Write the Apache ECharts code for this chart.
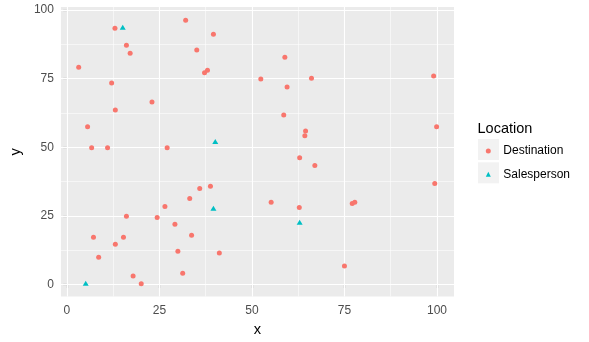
<!DOCTYPE html>
<html>
<head>
<meta charset="utf-8">
<script src="https://cdn.jsdelivr.net/npm/echarts@6/dist/echarts.min.js"></script>
<style>html,body{margin:0;padding:0;background:#fff}#c{width:589px;height:342px}</style>
</head>
<body>
<div id="c"></div>
<script>
// Data
var destX = [13.0, 32.1, 39.6, 16.1, 17.1, 35.1, 3.2, 38.0, 37.2, 52.4, 12.1, 23.0, 13.1, 5.6, 6.7, 11.0, 27.1,
             58.9, 66.1, 59.5, 99.1, 58.6, 64.5, 64.3, 99.9, 62.9,
             38.8, 35.9, 33.2, 26.5, 16.1, 24.4, 29.2, 7.2, 15.3, 33.7, 13.1, 30.0, 41.2, 8.6, 17.9, 31.3, 20.1,
             67.0, 99.4, 55.2, 77.1, 77.8, 62.8, 75.0];
var destY = [93.4, 96.3, 91.2, 87.2, 84.3, 85.4, 79.2, 78.1, 77.2, 74.9, 73.4, 66.5, 63.6, 57.5, 49.9, 49.9, 49.9,
             82.8, 75.2, 72.0, 76.0, 61.8, 56.0, 54.2, 57.5, 46.2,
             35.8, 35.0, 31.4, 28.5, 24.9, 24.5, 22.0, 17.3, 17.3, 18.0, 14.7, 12.2, 11.5, 10.0, 3.2, 4.2, 0.3,
             43.4, 36.8, 30.0, 29.6, 30.0, 28.1, 6.8];
var salesX = [15.1, 40.1, 39.6, 5.1, 62.9];
var salesY = [93.7, 52.1, 27.8, 0.5, 22.7];
var xTicks = [0, 25, 50, 75, 100];
var yTicks = [0, 25, 50, 75, 100];
var xMinor = [12.5, 37.5, 62.5, 87.5];
var yMinor = [12.5, 37.5, 62.5, 87.5];
var seriesNames = ['Destination', 'Salesperson'];
var legendTitle = 'Location';

function pairs(xs, ys) { return xs.map(function (x, i) { return [x, ys[i]]; }); }

var gridLines = [];
xMinor.forEach(function (v) { gridLines.push({ xAxis: v, lineStyle: { width: 0.55 } }); });
yMinor.forEach(function (v) { gridLines.push({ yAxis: v, lineStyle: { width: 0.55 } }); });
xTicks.forEach(function (v) { gridLines.push({ xAxis: v, lineStyle: { width: 1.1 } }); });
yTicks.forEach(function (v) { gridLines.push({ yAxis: v, lineStyle: { width: 1.1 } }); });

var chart = echarts.init(document.getElementById('c'), null, { renderer: 'canvas' });
var FONT = 'Liberation Sans, Arial, sans-serif';
chart.setOption({
  animation: false,
  backgroundColor: '#ffffff',
  textStyle: { fontFamily: FONT },
  grid: { left: 57.3, right: 135, top: 7, bottom: 44.7, show: true, backgroundColor: '#EBEBEB', borderWidth: 0, z: 0 },
  title: {
    text: legendTitle, left: 477.5, top: 121, padding: 0,
    textStyle: { fontFamily: FONT, fontSize: 14.5, fontWeight: 'normal', color: '#000' }
  },
  graphic: [
    { type: 'rect', shape: { x: 478, y: 139, width: 21, height: 21 }, style: { fill: '#F2F2F2' }, z: 1 },
    { type: 'rect', shape: { x: 478, y: 162.3, width: 21, height: 21 }, style: { fill: '#F2F2F2' }, z: 1 }
  ],
  legend: {
    orient: 'vertical', left: 485.8, top: 145, padding: 0, itemGap: 11.3,
    itemWidth: 5, itemHeight: 5, z: 10,
    textStyle: { fontFamily: FONT, fontSize: 12, color: '#000', lineHeight: 12, padding: [0, 0, 0, 7.5] },
    data: [
      { name: seriesNames[0], icon: 'circle' },
      { name: seriesNames[1], icon: 'triangle' }
    ]
  },
  xAxis: {
    type: 'value', min: -1.6, max: 104.6,
    name: 'x', nameLocation: 'middle', nameGap: 25.5,
    nameTextStyle: { fontFamily: FONT, fontSize: 14.7, color: '#000' },
    axisLine: { show: false },
    axisTick: { show: true, length: 3.7, customValues: xTicks, lineStyle: { color: '#333333', width: 1.1 } },
    axisLabel: { customValues: xTicks, margin: 8.5, fontFamily: FONT, fontSize: 12, color: '#4D4D4D' },
    splitLine: { show: false }
  },
  yAxis: {
    type: 'value', min: -4.3, max: 101.1,
    name: 'y', nameLocation: 'middle', nameGap: 34,
    nameTextStyle: { fontFamily: FONT, fontSize: 14.7, color: '#000' },
    axisLine: { show: false },
    axisTick: { show: true, length: 3.7, customValues: yTicks, lineStyle: { color: '#333333', width: 1.1 } },
    axisLabel: { customValues: yTicks, margin: 7, fontFamily: FONT, fontSize: 12, color: '#4D4D4D' },
    splitLine: { show: false }
  },
  series: [
    {
      type: 'scatter', name: '__grid', data: [], z: 1, silent: true,
      markLine: {
        silent: true, symbol: 'none', label: { show: false }, animation: false, z: 1,
        lineStyle: { color: '#FFFFFF', type: 'solid' },
        emphasis: { disabled: true },
        data: gridLines
      }
    },
    {
      type: 'scatter', name: seriesNames[0], data: pairs(destX, destY), z: 3,
      symbol: 'circle', symbolSize: 5, itemStyle: { color: '#F8766D', opacity: 1 }
    },
    {
      type: 'scatter', name: seriesNames[1], data: pairs(salesX, salesY), z: 3,
      symbol: 'triangle', symbolSize: [6, 5], itemStyle: { color: '#00BFC4', opacity: 1 }
    }
  ]
});
</script>
</body>
</html>
